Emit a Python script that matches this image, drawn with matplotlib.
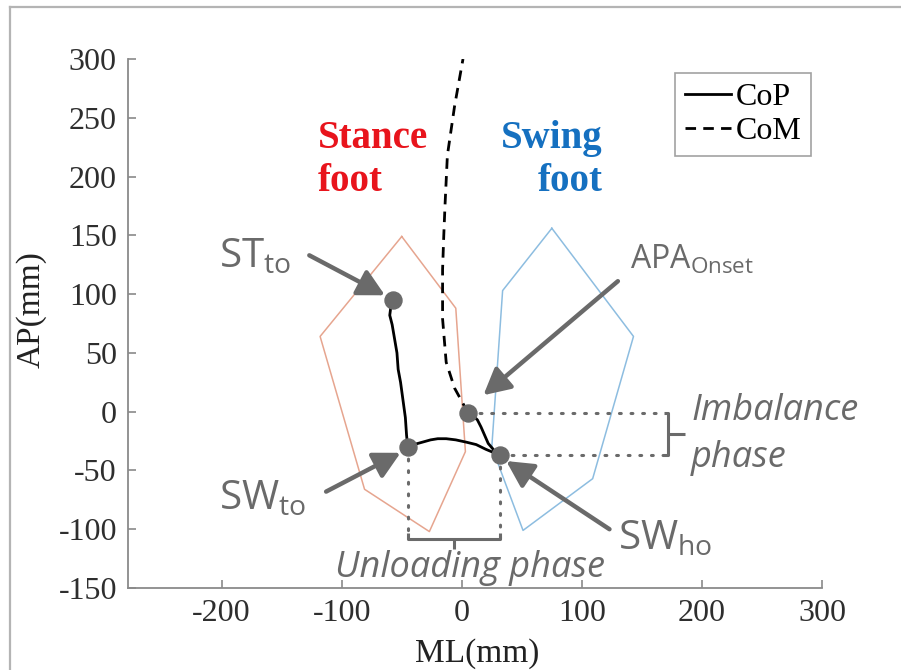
import numpy as np
import matplotlib
matplotlib.use('Agg')
from matplotlib import pyplot as plt
from matplotlib.lines import Line2D

# ******************
# Data (mm)
stance_x = [-50, -5, 3, -27, -81, -118, -50]
stance_y = [149, 88, -34, -102, -66, 64, 149]

swing_x = [75, 143, 109, 51, 25, 34, 75]
swing_y = [156, 64, -57, -101, -30, 103, 156]

# CoP: APA onset -> SW heel off -> SW toe off -> ST toe off
cop_x = [5, 9, 13, 16, 19, 22, 27, 32, 27, 20, 12, 4, -5, -13, -20, -26, -33, -40, -45,
         -46, -47, -49, -51, -53, -54, -56, -58, -60, -59, -57]
cop_y = [-1, -3, -7, -13, -20, -27, -33, -37, -35, -32, -28, -26, -24, -23, -23, -24, -26, -28, -30,
         -20, -5, 10, 25, 36, 50, 62, 74, 82, 90, 95]

com_x = [5, 1, -6, -13, -16, -16, -15, -14, -12, -6, 1]
com_y = [-1, 7, 20, 42, 79, 121, 150, 175, 218, 260, 300]

event_names = ['APA_Onset', 'SW_ho', 'SW_to', 'ST_to']
event_x = [5, 32, -45, -57]
event_y = [-1, -37, -30, 95]

x_ticks = [-200, -100, 0, 100, 200, 300]
y_ticks = [-150, -100, -50, 0, 50, 100, 150, 200, 250, 300]

grey = '#6a6a6a'
serif = 'Liberation Serif'
sans = 'Open Sans'

plt.rcParams['font.family'] = serif
plt.rcParams['axes.unicode_minus'] = False

# ******************
# Figure
fig = plt.figure(figsize=(9.01, 6.70), dpi=100)
ax = fig.add_axes([128 / 901, 82 / 670, 694 / 901, 529 / 670])

# outer grey frame (cut at right and bottom)
fig.add_artist(Line2D([10 / 901, 1.0], [1 - 7 / 670, 1 - 7 / 670], color='#b4b4b4', lw=1.6,
                      transform=fig.transFigure))
fig.add_artist(Line2D([10 / 901, 10 / 901], [0, 1 - 7 / 670], color='#b4b4b4', lw=1.6,
                      transform=fig.transFigure))

ax.plot(stance_x, stance_y, color='#e6a58f', lw=1.1)
ax.plot(swing_x, swing_y, color='#8dbde0', lw=1.1)

# dotted guides and brackets
ev = dict(zip(event_names, zip(event_x, event_y)))
dot_style = dict(color=grey, lw=2.2, linestyle=(0, (0.6, 3.2)), dash_capstyle='round')
x_br = 168
ax.plot([ev['APA_Onset'][0], x_br], [ev['APA_Onset'][1]] * 2, **dot_style)
ax.plot([ev['SW_ho'][0], x_br], [ev['SW_ho'][1]] * 2, **dot_style)
y_br = -108
ax.plot([ev['SW_to'][0]] * 2, [ev['SW_to'][1], y_br], **dot_style)
ax.plot([ev['SW_ho'][0]] * 2, [ev['SW_ho'][1], y_br], **dot_style)

br = dict(color=grey, lw=2.2, solid_capstyle='butt')
ax.plot([x_br, x_br + 4, x_br + 4, x_br], [ev['APA_Onset'][1], ev['APA_Onset'][1],
                                           ev['SW_ho'][1], ev['SW_ho'][1]], **br)
y_mid = (ev['APA_Onset'][1] + ev['SW_ho'][1]) / 2
ax.plot([x_br + 4, x_br + 18], [y_mid, y_mid], **br)
ax.plot([ev['SW_to'][0], ev['SW_to'][0], ev['SW_ho'][0], ev['SW_ho'][0]],
        [y_br + 5, y_br, y_br, y_br + 5], **br)
x_mid = (ev['SW_to'][0] + ev['SW_ho'][0]) / 2
ax.plot([x_mid, x_mid], [y_br, y_br - 9], **br)

ax.plot(cop_x, cop_y, color='black', lw=2.0, label='CoP')
ax.plot(com_x, com_y, color='black', lw=2.0, linestyle=(0, (3.8, 2.6)), label='CoM')
ax.scatter(event_x, event_y, s=150, color=grey, zorder=5)

# event labels with arrows
arrow = dict(arrowstyle='-|>,head_length=0.8,head_width=0.42', color=grey, lw=3.2,
             mutation_scale=20, shrinkA=0, shrinkB=0)
ax.annotate('', xy=(-64, 99), xytext=(-127, 133), arrowprops=arrow)
ax.annotate('', xy=(-51, -35), xytext=(-113, -68), arrowprops=arrow)
ax.annotate('', xy=(37, -42), xytext=(123, -100), arrowprops=arrow)
ax.annotate('', xy=(18, 14), xytext=(130, 111), arrowprops=arrow)

lab = dict(color=grey, family=sans, fontsize=29, va='baseline', ha='left')
ax.text(-202, 123, r'ST$_{\mathregular{to}}$', **lab)
ax.text(-202, -83, r'SW$_{\mathregular{to}}$', **lab)
ax.text(130, -117, r'SW$_{\mathregular{ho}}$', **lab)
ax.text(140, 122, r'APA$_{\mathregular{Onset}}$', color=grey, family=sans, fontsize=23,
        va='baseline', ha='left')

ax.text(191, -7, 'Imbalance', color=grey, family=sans, style='italic', fontsize=26,
        va='baseline', ha='left')
ax.text(191, -47, 'phase', color=grey, family=sans, style='italic', fontsize=26,
        va='baseline', ha='left')
ax.text(-106, -141, 'Unloading phase', color=grey, family=sans, style='italic', fontsize=26,
        va='baseline', ha='left')

ax.text(-120, 214, 'Stance\nfoot', color='#e8141c', family=serif, weight='bold', fontsize=28,
        ha='left', va='center', linespacing=1.2)
ax.text(117, 214, 'Swing\nfoot', color='#1570c0', family=serif, weight='bold', fontsize=28,
        ha='right', va='center', linespacing=1.2, multialignment='right')

# axes styling
ax.set_xlim(-278, 300)
ax.set_ylim(-150, 300)
ax.set_xticks(x_ticks)
ax.set_yticks(y_ticks)
for s in ['top', 'right']:
    ax.spines[s].set_visible(False)
for s in ['left', 'bottom']:
    ax.spines[s].set_color('#8a8a8a')
    ax.spines[s].set_linewidth(1.3)
ax.tick_params(direction='in', length=6, width=1.2, color='#8a8a8a', labelsize=23,
               labelcolor='#2e2e2e', pad=8)
ax.set_xticklabels([str(v) for v in x_ticks], family=serif)
ax.set_yticklabels([str(v) for v in y_ticks], family=serif)

ax.set_xlabel('ML(mm)', fontsize=24, color='#222222')
ax.set_ylabel('AP(mm)', fontsize=24, color='#222222')
ax.xaxis.label.set_va('baseline')
ax.xaxis.set_label_coords(0.503, -0.139)
ax.yaxis.set_label_coords(-0.117, 0.527)

leg = ax.legend(loc='upper right', bbox_to_anchor=(0.9845, 0.9735), prop={'family': serif, 'size': 23},
                frameon=True, fancybox=False, handlelength=1.45, handletextpad=0.15,
                labelspacing=0.15, borderpad=0.3, borderaxespad=0)
leg.get_frame().set_edgecolor('#8a8a8a')
leg.get_frame().set_linewidth(1.2)

plt.savefig('out.png', dpi=100)
